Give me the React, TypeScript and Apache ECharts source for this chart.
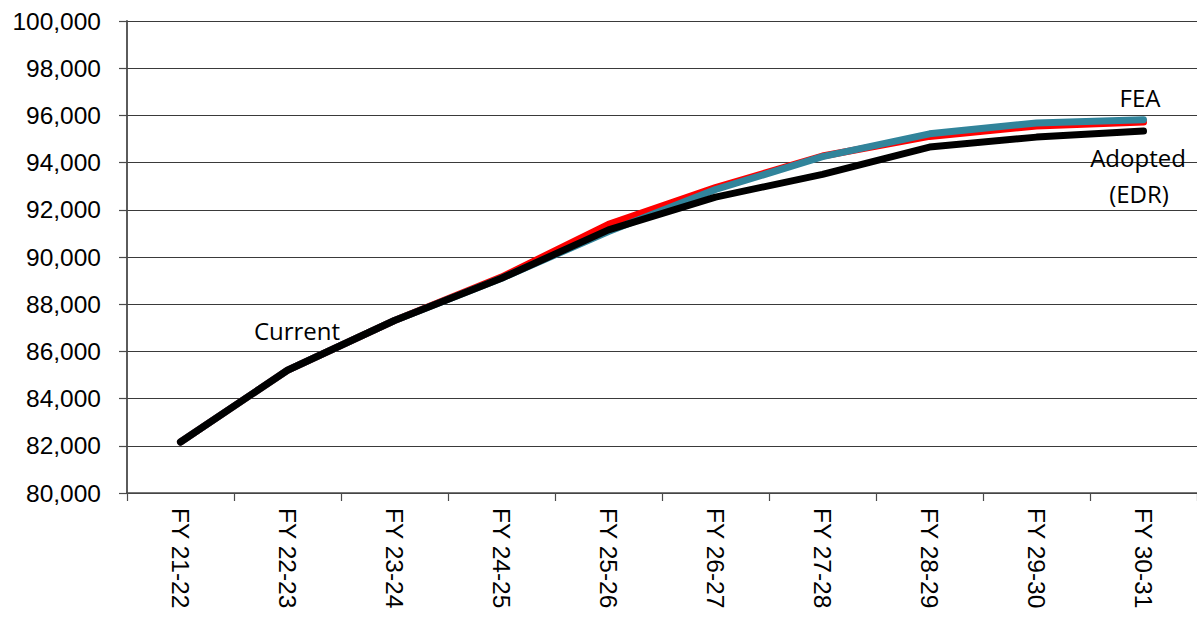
import React, { useEffect, useRef } from "react";
import * as echarts from "echarts";

const categories = [
  "FY 21-22",
  "FY 22-23",
  "FY 23-24",
  "FY 24-25",
  "FY 25-26",
  "FY 26-27",
  "FY 27-28",
  "FY 28-29",
  "FY 29-30",
  "FY 30-31",
];

const adoptedEDR = [82160, 85200, 87310, 89100, 91150, 92540, 93500, 94660, 95080, 95340];
const redSeries = [82160, 85200, 87310, 89150, 91380, 92940, 94280, 95110, 95550, 95720];
const feaSeries = [82160, 85200, 87310, 89100, 91080, 92860, 94250, 95220, 95680, 95820];

const yMin = 80000;
const yMax = 100000;
const yInterval = 2000;

const axisFont = "'Liberation Sans', Arial, sans-serif";
const noteFont = "'Open Sans', 'Noto Sans', sans-serif";

export default function App() {
  const ref = useRef<HTMLDivElement>(null);

  useEffect(() => {
    if (!ref.current) return;
    const chart = echarts.init(ref.current, null, { renderer: "svg" });
    const axisColor = "#4a4a4a";
    const note = (text: string, x: number, y: number) => ({
      type: "text",
      x,
      y,
      z: 100,
      style: {
        text,
        fill: "#000",
        fontSize: 24,
        fontFamily: noteFont,
        align: "center",
        verticalAlign: "middle",
        textAlign: "center",
        textVerticalAlign: "middle",
      },
    });
    chart.setOption({
      animation: false,
      backgroundColor: "#fff",
      grid: { left: 127, top: 21, width: 1078, height: 472, containLabel: false },
      xAxis: {
        type: "category",
        data: categories,
        boundaryGap: true,
        axisLine: { show: true, lineStyle: { color: axisColor, width: 1.6 } },
        axisTick: { show: true, length: 8, alignWithLabel: false, lineStyle: { color: axisColor, width: 1.2 } },
        axisLabel: {
          rotate: -90,
          margin: 15,
          color: "#000",
          fontSize: 24.5,
          fontFamily: axisFont,
          interval: 0,
        },
        splitLine: { show: false },
      },
      yAxis: {
        type: "value",
        min: yMin,
        max: yMax,
        interval: yInterval,
        axisLine: { show: true, lineStyle: { color: axisColor, width: 1.8 } },
        axisTick: { show: true, length: 8, lineStyle: { color: axisColor, width: 1.2 } },
        axisLabel: {
          margin: 26,
          color: "#000",
          fontSize: 24.5,
          fontFamily: axisFont,
          formatter: (v: number) => v.toLocaleString("en-US"),
        },
        splitLine: { show: true, lineStyle: { color: "#3a3a3a", width: 1.2 } },
      },
      series: [
        {
          name: "Alternative",
          type: "line",
          data: redSeries,
          symbol: "none",
          lineStyle: { color: "#ff0000", width: 7, cap: "round", join: "round" },
          z: 2,
        },
        {
          name: "FEA",
          type: "line",
          data: feaSeries,
          symbol: "none",
          lineStyle: { color: "#31849b", width: 7, cap: "round", join: "round" },
          z: 3,
        },
        {
          name: "Adopted (EDR)",
          type: "line",
          data: adoptedEDR,
          symbol: "none",
          lineStyle: { color: "#000000", width: 7, cap: "round", join: "round" },
          z: 4,
        },
      ],
      graphic: [
        note("FEA", 1140, 97),
        note("Adopted", 1138, 157),
        note("(EDR)", 1139, 193),
        note("Current", 297, 330),
      ],
    });
    return () => chart.dispose();
  }, []);

  return (
    <div
      ref={ref}
      style={{ position: "fixed", left: 0, top: 0, width: 1197, height: 621, background: "#fff" }}
    />
  );
}
